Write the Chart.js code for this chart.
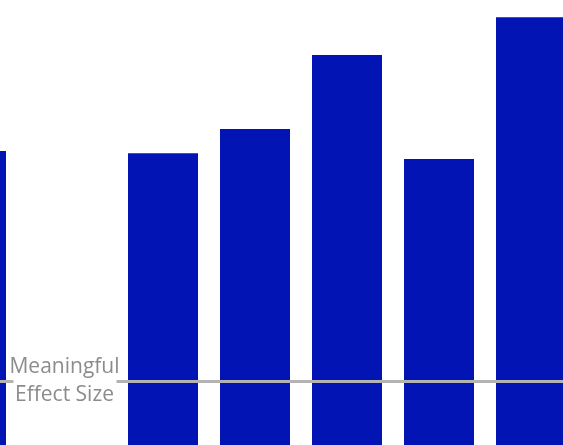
<!DOCTYPE html>
<html>
<head>
<meta charset="utf-8">
<script src="https://cdn.jsdelivr.net/npm/chart.js@4/dist/chart.umd.min.js"></script>
<style>
  html, body { margin: 0; padding: 0; background: #fff; overflow: hidden; }
  body { width: 563px; height: 445px; position: relative; }
  #wrap { position: absolute; left: -67px; top: 0; width: 644px; height: 445px; }
</style>
</head>
<body>
<div id="wrap"><canvas id="chart"></canvas></div>
<script>
// categories (slot 1 holds the threshold label, no bar)
const categories = ["A", "", "B", "C", "D", "E", "F"];
const effectSizes = [0.925, null, 0.918, 0.994, 1.227, 0.900, 1.346];
const meaningfulEffect = 0.2;
const thresholdLabel = ["Meaningful", "Effect Size"];

const barColor = "#0214b4";
const lineColor = "#b3b3b3";
const labelColor = "#8c8c8c";

// threshold line + label, drawn over the bars
const thresholdPlugin = {
  id: "threshold",
  afterDatasetsDraw(chart) {
    const { ctx, chartArea, scales } = chart;
    const y = scales.y.getPixelForValue(meaningfulEffect);
    ctx.save();
    ctx.strokeStyle = lineColor;
    ctx.lineWidth = 3;
    ctx.beginPath();
    ctx.moveTo(chartArea.left, y);
    ctx.lineTo(chartArea.right, y);
    ctx.stroke();

    const cx = scales.x.getPixelForValue(1) - 6.5;
    ctx.fillStyle = "#fff";
    ctx.fillRect(cx - 51, y - 4, 103, 8);
    ctx.font = "21px 'Open Sans'";
    ctx.fillStyle = labelColor;
    ctx.textAlign = "center";
    ctx.textBaseline = "alphabetic";
    ctx.fillText(thresholdLabel[0], cx, y - 8.5);
    ctx.fillText(thresholdLabel[1], cx, y + 20);
    ctx.restore();
  }
};

new Chart(document.getElementById("chart"), {
  type: "bar",
  data: {
    labels: categories,
    datasets: [{
      data: effectSizes,
      backgroundColor: barColor,
      // the first (cut-off) bar sits a little left of the grid in the original
      borderColor: (c) => c.dataIndex === 0 ? "#ffffff" : barColor,
      borderWidth: (c) => c.dataIndex === 0 ? { right: 8 } : 0,
      borderSkipped: false,
      barPercentage: 70 / 92,
      categoryPercentage: 1
    }]
  },
  options: {
    responsive: true,
    maintainAspectRatio: false,
    animation: false,
    layout: { padding: 0 },
    plugins: {
      legend: { display: false },
      tooltip: { enabled: false }
    },
    scales: {
      x: { display: false },
      y: { display: false, min: 0, max: 1.4 }
    }
  },
  plugins: [thresholdPlugin]
});
</script>
</body>
</html>
